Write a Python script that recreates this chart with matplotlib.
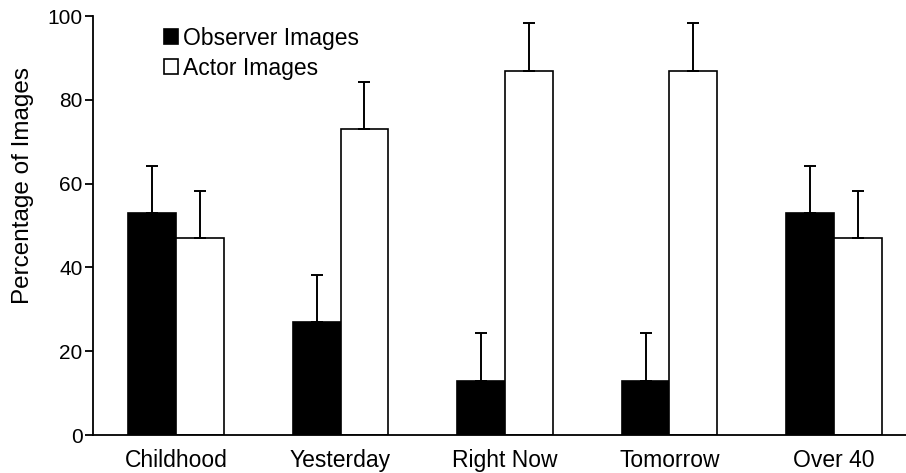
import matplotlib.pyplot as plt
import numpy as np

plt.rcParams['font.family'] = ['Liberation Sans', 'DejaVu Sans']

categories = ["Childhood", "Yesterday", "Right Now", "Tomorrow", "Over 40"]
observer = [53, 27, 13, 13, 53]
actor = [47, 73, 87, 87, 47]
observer_err = [11.3, 11.3, 11.3, 11.3, 11.3]
actor_err = [11.3, 11.3, 11.3, 11.3, 11.3]

x = np.arange(len(categories))
w = 0.29

fig = plt.figure(figsize=(9.06, 4.73), dpi=100)
ax = fig.add_axes([0.1026, 0.0803, 0.8974, 0.8858])

# one-sided (upward) error bars, like the original figure
err_kw = dict(ecolor="black", elinewidth=1.4, capsize=4.5, capthick=1.4)
b1 = ax.bar(x - w / 2, observer, w, color="black", edgecolor="black", linewidth=1.2,
            yerr=[np.zeros(len(x)), observer_err], error_kw=err_kw, label="Observer Images")
b2 = ax.bar(x + w / 2, actor, w, color="white", edgecolor="black", linewidth=1.2,
            yerr=[np.zeros(len(x)), actor_err], error_kw=err_kw, label="Actor Images")

ax.set_xlim(-0.505, 4.438)
ax.set_ylim(0, 100)
ax.set_yticks([0, 20, 40, 60, 80, 100])
ax.set_xticks(x)
ax.set_xticklabels(categories)
ax.tick_params(axis="x", length=0, pad=10, labelsize=16.5)
ax.tick_params(axis="y", length=6, width=1.3, pad=1.5, labelsize=15)
# label sits a bit above the middle of the axis
ax.set_ylabel("Percentage of Images", fontsize=17.5, labelpad=10, y=0.595)

for s in ["top", "right"]:
    ax.spines[s].set_visible(False)
ax.spines["left"].set_linewidth(1.3)
ax.spines["bottom"].set_linewidth(1.3)

ax.legend(handles=[b1, b2], frameon=False, fontsize=16.5, loc="upper left",
          bbox_to_anchor=(0.158, 0.987), bbox_transform=fig.transFigure,
          handlelength=0.6, handleheight=0.65, handletextpad=0.22, labelspacing=0.3)

fig.savefig("out.png", dpi=100)
